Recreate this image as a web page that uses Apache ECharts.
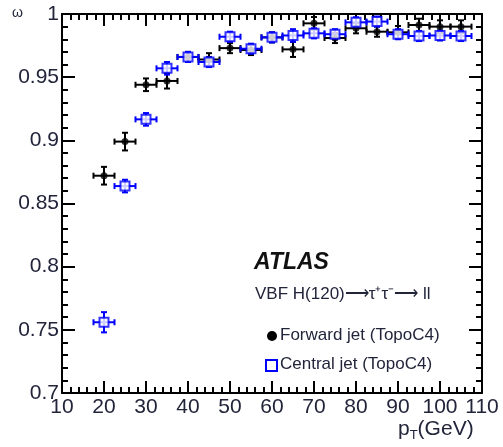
<!DOCTYPE html>
<html>
<head>
<meta charset="utf-8">
<script src="https://cdn.jsdelivr.net/npm/echarts@6/dist/echarts.min.js"></script>
<style>
html,body{margin:0;padding:0;background:#fff;}
#chart{width:503px;height:447px;}
</style>
</head>
<body>
<div id="chart"></div>
<script>
// ---- data ----
var ptBins = [20, 25, 30, 35, 40, 45, 50, 55, 60, 65, 70, 75, 80, 85, 90, 95, 100, 105];
var binHalfWidth = 2.5;
var forwardEff = [0.872, 0.899, 0.944, 0.947, 0.966, 0.964, 0.973, 0.9715, 0.9815, 0.972, 0.9926, 0.981, 0.9887, 0.986, 0.9855, 0.9913, 0.990, 0.990];
var forwardErr = [0.007, 0.007, 0.005, 0.006, 0.004, 0.005, 0.004, 0.004, 0.004, 0.006, 0.005, 0.004, 0.004, 0.004, 0.005, 0.005, 0.005, 0.005];
var centralEff = [0.756, 0.8638, 0.9166, 0.957, 0.966, 0.962, 0.982, 0.9725, 0.9815, 0.983, 0.9847, 0.984, 0.9934, 0.994, 0.984, 0.9826, 0.983, 0.9826];
var centralErr = [0.008, 0.005, 0.005, 0.005, 0.004, 0.004, 0.004, 0.004, 0.004, 0.005, 0.004, 0.004, 0.004, 0.004, 0.004, 0.004, 0.004, 0.004];
var xTicks = [10, 20, 30, 40, 50, 60, 70, 80, 90, 100, 110];
var yTicks = [0.7, 0.75, 0.8, 0.85, 0.9, 0.95, 1];

var FONT = '"Liberation Sans", Arial, Helvetica, sans-serif';

function makeErrData(eff, err) {
  return ptBins.map(function (x, i) { return [x, eff[i], err[i]]; });
}
function errRender(color) {
  return function (params, api) {
    var x = api.value(0), y = api.value(1), e = api.value(2);
    var l = api.coord([x - binHalfWidth, y]);
    var r = api.coord([x + binHalfWidth, y]);
    var t = api.coord([x, y + e]);
    var b = api.coord([x, y - e]);
    var cap = 3;
    var st = { stroke: color, lineWidth: 2 };
    return {
      type: 'group',
      children: [
        { type: 'line', shape: { x1: l[0], y1: l[1], x2: r[0], y2: r[1] }, style: st },
        { type: 'line', shape: { x1: t[0], y1: t[1], x2: b[0], y2: b[1] }, style: st },
        { type: 'line', shape: { x1: l[0], y1: l[1] - cap, x2: l[0], y2: l[1] + cap }, style: st },
        { type: 'line', shape: { x1: r[0], y1: r[1] - cap, x2: r[0], y2: r[1] + cap }, style: st },
        { type: 'line', shape: { x1: t[0] - cap, y1: t[1], x2: t[0] + cap, y2: t[1] }, style: st },
        { type: 'line', shape: { x1: b[0] - cap, y1: b[1], x2: b[0] + cap, y2: b[1] }, style: st }
      ]
    };
  };
}

var axisLineStyle = { color: '#000', width: 2 };
function xAx(pos, labels) {
  return {
    type: 'value', position: pos, min: xTicks[0], max: xTicks[xTicks.length - 1], interval: 10,
    axisLine: { show: true, onZero: false, lineStyle: axisLineStyle },
    axisTick: { show: true, inside: true, length: 12, lineStyle: { color: '#000', width: 2 } },
    minorTick: { show: true, splitNumber: 5, length: 6, lineStyle: { color: '#000', width: 2 } },
    splitLine: { show: false }, minorSplitLine: { show: false },
    axisLabel: { show: labels, fontSize: 21, color: '#22243a', fontFamily: FONT, margin: 4 }
  };
}
function yAx(pos, labels) {
  return {
    type: 'value', position: pos, min: yTicks[0], max: yTicks[yTicks.length - 1], interval: 0.05,
    axisLine: { show: true, onZero: false, lineStyle: axisLineStyle },
    axisTick: { show: true, inside: true, length: 13, lineStyle: { color: '#000', width: 2 } },
    minorTick: { show: true, splitNumber: 5, length: 6, lineStyle: { color: '#000', width: 2 } },
    splitLine: { show: false }, minorSplitLine: { show: false },
    axisLabel: {
      show: labels, fontSize: 21, color: '#22243a', fontFamily: FONT, margin: 3,
      formatter: function (v) { return String(+v.toFixed(2)); }
    }
  };
}

var chart = echarts.init(document.getElementById('chart'), null, { renderer: 'canvas' });
chart.setOption({
  animation: false,
  backgroundColor: '#fff',
  grid: { left: 62, right: 21, top: 14, bottom: 54, containLabel: false },
  xAxis: [xAx('bottom', true), xAx('top', false)],
  yAxis: [yAx('left', true), yAx('right', false)],
  series: [
    { type: 'custom', name: 'fwdErr', xAxisIndex: 0, yAxisIndex: 0, renderItem: errRender('#000'),
      data: makeErrData(forwardEff, forwardErr), encode: { x: 0, y: 1 }, z: 2, clip: true },
    { type: 'custom', name: 'cenErr', xAxisIndex: 0, yAxisIndex: 0, renderItem: errRender('#0000ff'),
      data: makeErrData(centralEff, centralErr), encode: { x: 0, y: 1 }, z: 3, clip: true },
    { type: 'scatter', name: 'Forward jet (TopoC4)', symbol: 'circle', symbolSize: 7,
      itemStyle: { color: '#000' }, z: 4,
      data: ptBins.map(function (x, i) { return [x, forwardEff[i]]; }) },
    { type: 'scatter', name: 'Central jet (TopoC4)', symbol: 'rect', symbolSize: 9,
      itemStyle: { color: '#fff', borderColor: '#0000ff', borderWidth: 2 }, z: 5,
      data: ptBins.map(function (x, i) { return [x, centralEff[i]]; }) }
  ],
  graphic: [
    { type: 'text', left: 12, top: 6, style: { text: 'ω', font: '14px ' + FONT, fill: '#22243a' } },
    { type: 'text', left: 398, top: 419, style: {
        text: '{p|p}{s|T}{p|(GeV)}',
        rich: {
          p: { font: '21px ' + FONT, fill: '#22243a' },
          s: { font: '13px ' + FONT, fill: '#22243a', padding: [12, 0, 0, 0] }
        } } },
    { type: 'text', left: 254, top: 251, style: { text: 'ATLAS', font: 'italic bold 23px ' + FONT, fill: '#111' } },
    { type: 'text', left: 255, top: 286, style: { text: 'VBF H(120)⟶τ⁺τ⁻⟶ ll', font: '17px ' + FONT, fill: '#22243a' } },
    { type: 'circle', shape: { cx: 272, cy: 336, r: 5 }, style: { fill: '#000' } },
    { type: 'text', left: 280, top: 327, style: { text: 'Forward jet (TopoC4)', font: '17px ' + FONT, fill: '#22243a' } },
    { type: 'rect', shape: { x: 266, y: 360, width: 11, height: 11 }, style: { fill: '#fff', stroke: '#0000ff', lineWidth: 2 } },
    { type: 'text', left: 280, top: 356, style: { text: 'Central jet (TopoC4)', font: '17px ' + FONT, fill: '#22243a' } }
  ]
});
</script>
</body>
</html>
